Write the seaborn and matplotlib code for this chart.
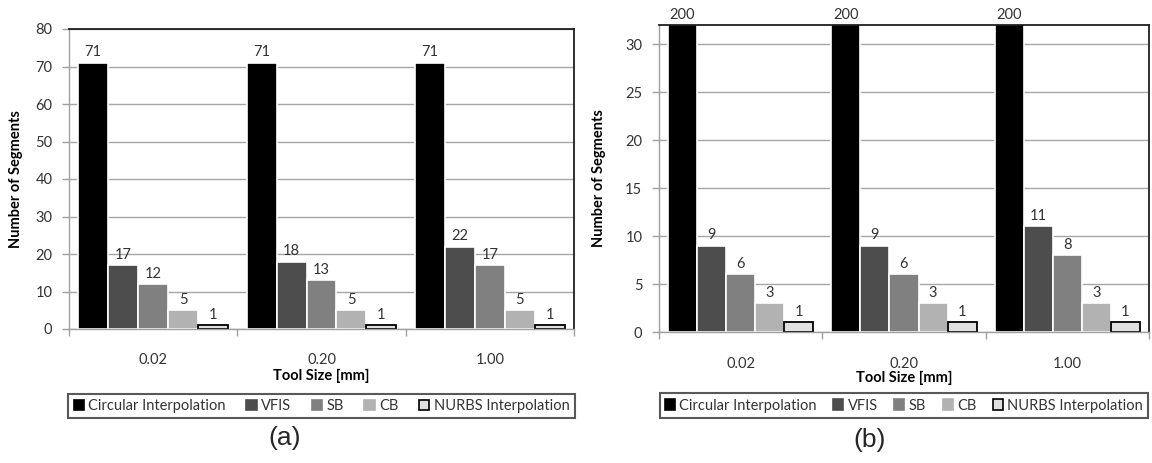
import matplotlib
matplotlib.use("Agg")
import matplotlib.pyplot as plt
from matplotlib.patches import Patch
import numpy as np
import pandas as pd
import seaborn as sns

# ---------------- data ----------------
tool_sizes = ["0.02", "0.20", "1.00"]
methods = ["Circular Interpolation", "VFIS", "SB", "CB", "NURBS Interpolation"]
colors = ["#000000", "#4d4d4d", "#808080", "#b2b2b2", "#e0e0e0"]

# panel (a)
circ_a = [71, 71, 71]
vfis_a = [17, 18, 22]
sb_a = [12, 13, 17]
cb_a = [5, 5, 5]
nurbs_a = [1, 1, 1]

# panel (b)
circ_b = [200, 200, 200]
vfis_b = [9, 9, 11]
sb_b = [6, 6, 8]
cb_b = [3, 3, 3]
nurbs_b = [1, 1, 1]

yticks_a = [0, 10, 20, 30, 40, 50, 60, 70, 80]
yticks_b = [0, 5, 10, 15, 20, 25, 30]


def to_df(series):
    rows = []
    for m, vals in zip(methods, series):
        for s, v in zip(tool_sizes, vals):
            rows.append({"size": s, "method": m, "segments": v})
    return pd.DataFrame(rows)


df_a = to_df([circ_a, vfis_a, sb_a, cb_a, nurbs_a])
df_b = to_df([circ_b, vfis_b, sb_b, cb_b, nurbs_b])

sns.set_theme(style="white")
plt.rcParams["font.family"] = ["Lato", "DejaVu Sans"]

fig = plt.figure(figsize=(11.52, 4.63), dpi=100)
ax_a = fig.add_axes([69 / 1152, 1 - 329 / 463, 505 / 1152, 300 / 463])
ax_b = fig.add_axes([659 / 1152, 1 - 332 / 463, 490 / 1152, 307 / 463])

tick_color = "#333333"


def draw(ax, df, ylim, yticks, tick_pad, xlab_y, ylab_x, leg_x, leg_y, colsp):
    ax.set_axisbelow(True)
    sns.barplot(data=df, x="size", y="segments", hue="method",
                order=tool_sizes, hue_order=methods, palette=colors,
                saturation=1, width=0.89, errorbar=None, legend=False, ax=ax)
    for cont, m in zip(ax.containers, methods):
        for bar in cont:
            if m == "NURBS Interpolation":
                bar.set_edgecolor("#000000")
                bar.set_linewidth(1.3)
            else:
                bar.set_edgecolor("white")
                bar.set_linewidth(1.2)
        for bar, v in zip(cont, cont.datavalues):
            ax.annotate(f"{v:g}", (bar.get_x() + bar.get_width() / 2,
                                    min(bar.get_height(), ylim[1])),
                        xytext=(0, 2.5), textcoords="offset points",
                        ha="center", va="bottom", fontsize=10.5,
                        color=tick_color, annotation_clip=False)
    ax.set_ylim(*ylim)
    ax.set_xlim(-0.5, 2.5)
    ax.set_yticks(yticks)
    ax.yaxis.grid(True, color="#a6a6a6", linewidth=1)
    ax.xaxis.grid(False)
    ax.tick_params(axis="y", which="major", left=True, length=5, width=1,
                   color="#a0a0a0", labelsize=10.5, labelcolor=tick_color, pad=7)
    ax.tick_params(axis="x", which="major", length=0, labelsize=10.5,
                   labelcolor=tick_color, pad=tick_pad)
    ax.set_xticks([-0.5, 0.5, 1.5, 2.5], minor=True)
    ax.tick_params(axis="x", which="minor", bottom=True, length=5, width=1,
                   color="#a0a0a0")
    for side in ["left", "bottom"]:
        ax.spines[side].set_color("#a0a0a0")
        ax.spines[side].set_linewidth(1)
    for side in ["top", "right"]:
        ax.spines[side].set_color("#202020")
        ax.spines[side].set_linewidth(1.3)
    ax.set_xlabel("Tool Size [mm]", fontsize=10.5, fontweight="bold",
                  color="#000000")
    ax.xaxis.set_label_coords(0.5, xlab_y)
    ax.set_ylabel("Number of Segments", fontsize=10.5, fontweight="bold",
                  color="#000000")
    ax.yaxis.set_label_coords(ylab_x, 0.5)

    handles = [Patch(facecolor=c, edgecolor=("#000000" if m.startswith("NURBS") else c),
                     linewidth=1.2, label=m) for m, c in zip(methods, colors)]
    leg = ax.legend(handles=handles, loc="center", ncol=5,
                    bbox_to_anchor=(leg_x, leg_y), frameon=True, fancybox=False,
                    fontsize=10.5, handlelength=0.7, handleheight=0.7,
                    handletextpad=0.3, columnspacing=colsp, borderpad=0.35,
                    borderaxespad=0)
    leg.get_frame().set_edgecolor("#303030")
    leg.get_frame().set_linewidth(1.5)
    for t in leg.get_texts():
        t.set_color(tick_color)


draw(ax_a, df_a, (0, 80), yticks_a, 17, -0.133, -0.091, 0.5, -0.257, 1.42)
draw(ax_b, df_b, (0, 32), yticks_b, 18, -0.127, -0.108, 0.5, -0.2395, 1.12)

fig.text(285 / 1152, 1 - 438 / 463, "(a)", fontsize=19, ha="center",
         va="center", family=["Liberation Sans", "DejaVu Sans"])
fig.text(870 / 1152, 1 - 440 / 463, "(b)", fontsize=19, ha="center",
         va="center", family=["Liberation Sans", "DejaVu Sans"])

fig.savefig("out.png", dpi=100)
